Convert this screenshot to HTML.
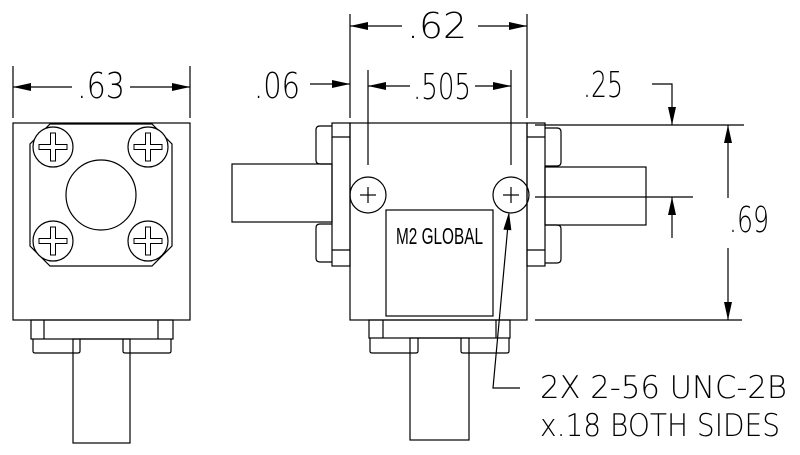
<!DOCTYPE html>
<html><head><meta charset="utf-8"><style>
html,body{margin:0;padding:0;background:#fff;}
svg{display:block;}
text{font-family:"DejaVu Sans","Liberation Sans",sans-serif;font-weight:200;fill:#000;}
</style></head><body>
<svg width="800" height="455" viewBox="0 0 800 455" xmlns="http://www.w3.org/2000/svg">
<defs>
<path id="plus" d="M-2.5,-14 H2.5 V-2.5 H14 V2.5 H2.5 V14 H-2.5 V2.5 H-14 V-2.5 H-2.5 Z" fill="none" stroke="#000" stroke-width="1"/>
<path id="ah" d="M0,0 L-18,-4 L-18,4 Z" fill="#000"/>
</defs>
<g fill="none" stroke="#000" stroke-width="1.2">
<line x1="13" y1="66" x2="13" y2="118"/><line x1="190" y1="66" x2="190" y2="118"/>
<line x1="13" y1="87" x2="72" y2="87"/><line x1="130" y1="87" x2="190" y2="87"/>
<rect x="13" y="123" width="177" height="197"/>
<path d="M50,124 H152 L172,144 V246 L152,266 H50 L30,246 V144 Z"/>
<circle cx="101" cy="195" r="35"/>
<circle cx="53" cy="147" r="20" fill="#fff"/><circle cx="148" cy="147" r="20" fill="#fff"/>
<circle cx="53" cy="241" r="20" fill="#fff"/><circle cx="148" cy="241" r="20" fill="#fff"/>
<rect x="31" y="320" width="142" height="19"/>
<line x1="44" y1="320" x2="44" y2="339"/><line x1="158" y1="320" x2="158" y2="339"/>
<path d="M33,339 V351 Q33,353 35,353 H78 Q80,353 80,351 V339"/>
<path d="M123,339 V351 Q123,353 125,353 H169 Q171,353 171,351 V339"/>
<rect x="73" y="339" width="57" height="104"/>

<line x1="350" y1="14" x2="350" y2="118"/><line x1="527" y1="14" x2="527" y2="118"/>
<line x1="350" y1="26" x2="402" y2="26"/><line x1="478" y1="26" x2="527" y2="26"/>
<line x1="368" y1="70" x2="368" y2="165"/><line x1="511" y1="70" x2="511" y2="165"/>
<line x1="368" y1="86" x2="410" y2="86"/><line x1="475" y1="86" x2="511" y2="86"/>
<line x1="310" y1="84" x2="350" y2="84"/>
<rect x="350" y="123" width="177" height="197"/>
<circle cx="368" cy="195" r="18"/><circle cx="511" cy="195" r="18"/>
<line x1="360" y1="195" x2="376" y2="195"/><line x1="368" y1="187" x2="368" y2="203"/>
<line x1="503" y1="195" x2="519" y2="195"/><line x1="511" y1="187" x2="511" y2="203"/>
<rect x="386" y="210" width="107" height="106"/>
<rect x="332" y="123" width="18" height="143"/>
<line x1="332" y1="137" x2="350" y2="137"/><line x1="332" y1="250" x2="350" y2="250"/>
<path d="M332,126 H320 Q316,126 316,130 V160 Q316,164 320,164 H332"/>
<path d="M332,224 H320 Q316,224 316,228 V258 Q316,262 320,262 H332"/>
<rect x="232" y="164" width="100" height="58"/>
<rect x="527" y="123" width="18" height="143"/>
<line x1="527" y1="137" x2="545" y2="137"/><line x1="527" y1="250" x2="545" y2="250"/>
<path d="M545,128 H557 Q561,128 561,132 V162 Q561,166 557,166 H545"/>
<path d="M545,225 H557 Q561,225 561,229 V259 Q561,263 557,263 H545"/>
<rect x="545" y="167" width="101" height="58"/>
<line x1="535" y1="197" x2="693" y2="197"/>
<line x1="535" y1="125" x2="744" y2="125"/>
<line x1="535" y1="320" x2="742" y2="320"/>
<line x1="728" y1="125" x2="728" y2="198"/><line x1="728" y1="248" x2="728" y2="320"/>
<polyline points="652,84 672,84 672,125"/>
<line x1="672" y1="197" x2="672" y2="238"/>
<rect x="369" y="320" width="141" height="18"/>
<line x1="383" y1="320" x2="383" y2="338"/><line x1="496" y1="320" x2="496" y2="338"/>
<path d="M370,338 V351 Q370,353 372,353 H416 Q418,353 418,351 V338"/>
<path d="M461,338 V351 Q461,353 463,353 H507 Q509,353 509,351 V338"/>
<rect x="410" y="338" width="59" height="102"/>
<polyline points="520,388 493,388 509,214"/>
</g>
<use href="#ah" transform="translate(13,87) rotate(180)"/>
<use href="#ah" transform="translate(190,87)"/>
<use href="#ah" transform="translate(350,26) rotate(180)"/>
<use href="#ah" transform="translate(527,26)"/>
<use href="#ah" transform="translate(368,86) rotate(180)"/>
<use href="#ah" transform="translate(511,86)"/>
<use href="#ah" transform="translate(350,84)"/>
<use href="#ah" transform="translate(728,125) rotate(-90)"/>
<use href="#ah" transform="translate(728,320) rotate(90)"/>
<use href="#ah" transform="translate(672,125) rotate(90)"/>
<use href="#ah" transform="translate(672,197) rotate(-90)"/>
<use href="#ah" transform="translate(509,212) rotate(-84.8)"/>
<use href="#plus" transform="translate(53,147)"/><use href="#plus" transform="translate(148,147)"/>
<use href="#plus" transform="translate(53,241)"/><use href="#plus" transform="translate(148,241)"/>
<text x="77" y="98" font-size="36" textLength="48" lengthAdjust="spacingAndGlyphs">.63</text>
<text x="407" y="38" font-size="36" textLength="60" lengthAdjust="spacingAndGlyphs">.62</text>
<text x="254" y="98" font-size="36" textLength="46" lengthAdjust="spacingAndGlyphs">.06</text>
<text x="413" y="99" font-size="36" textLength="58" lengthAdjust="spacingAndGlyphs">.505</text>
<text x="583" y="97" font-size="36" textLength="40" lengthAdjust="spacingAndGlyphs">.25</text>
<text x="729" y="232" font-size="36" textLength="40" lengthAdjust="spacingAndGlyphs">.69</text>
<text x="396" y="244" font-size="23" textLength="87" lengthAdjust="spacingAndGlyphs" style="font-family:'Liberation Sans',sans-serif;font-weight:400">M2 GLOBAL</text>
<text x="540" y="398" font-size="31" textLength="247" lengthAdjust="spacingAndGlyphs">2X 2-56 UNC-2B</text>
<text x="540" y="436" font-size="31" textLength="240" lengthAdjust="spacingAndGlyphs">x.18 BOTH SIDES</text>
</svg>
</body></html>
